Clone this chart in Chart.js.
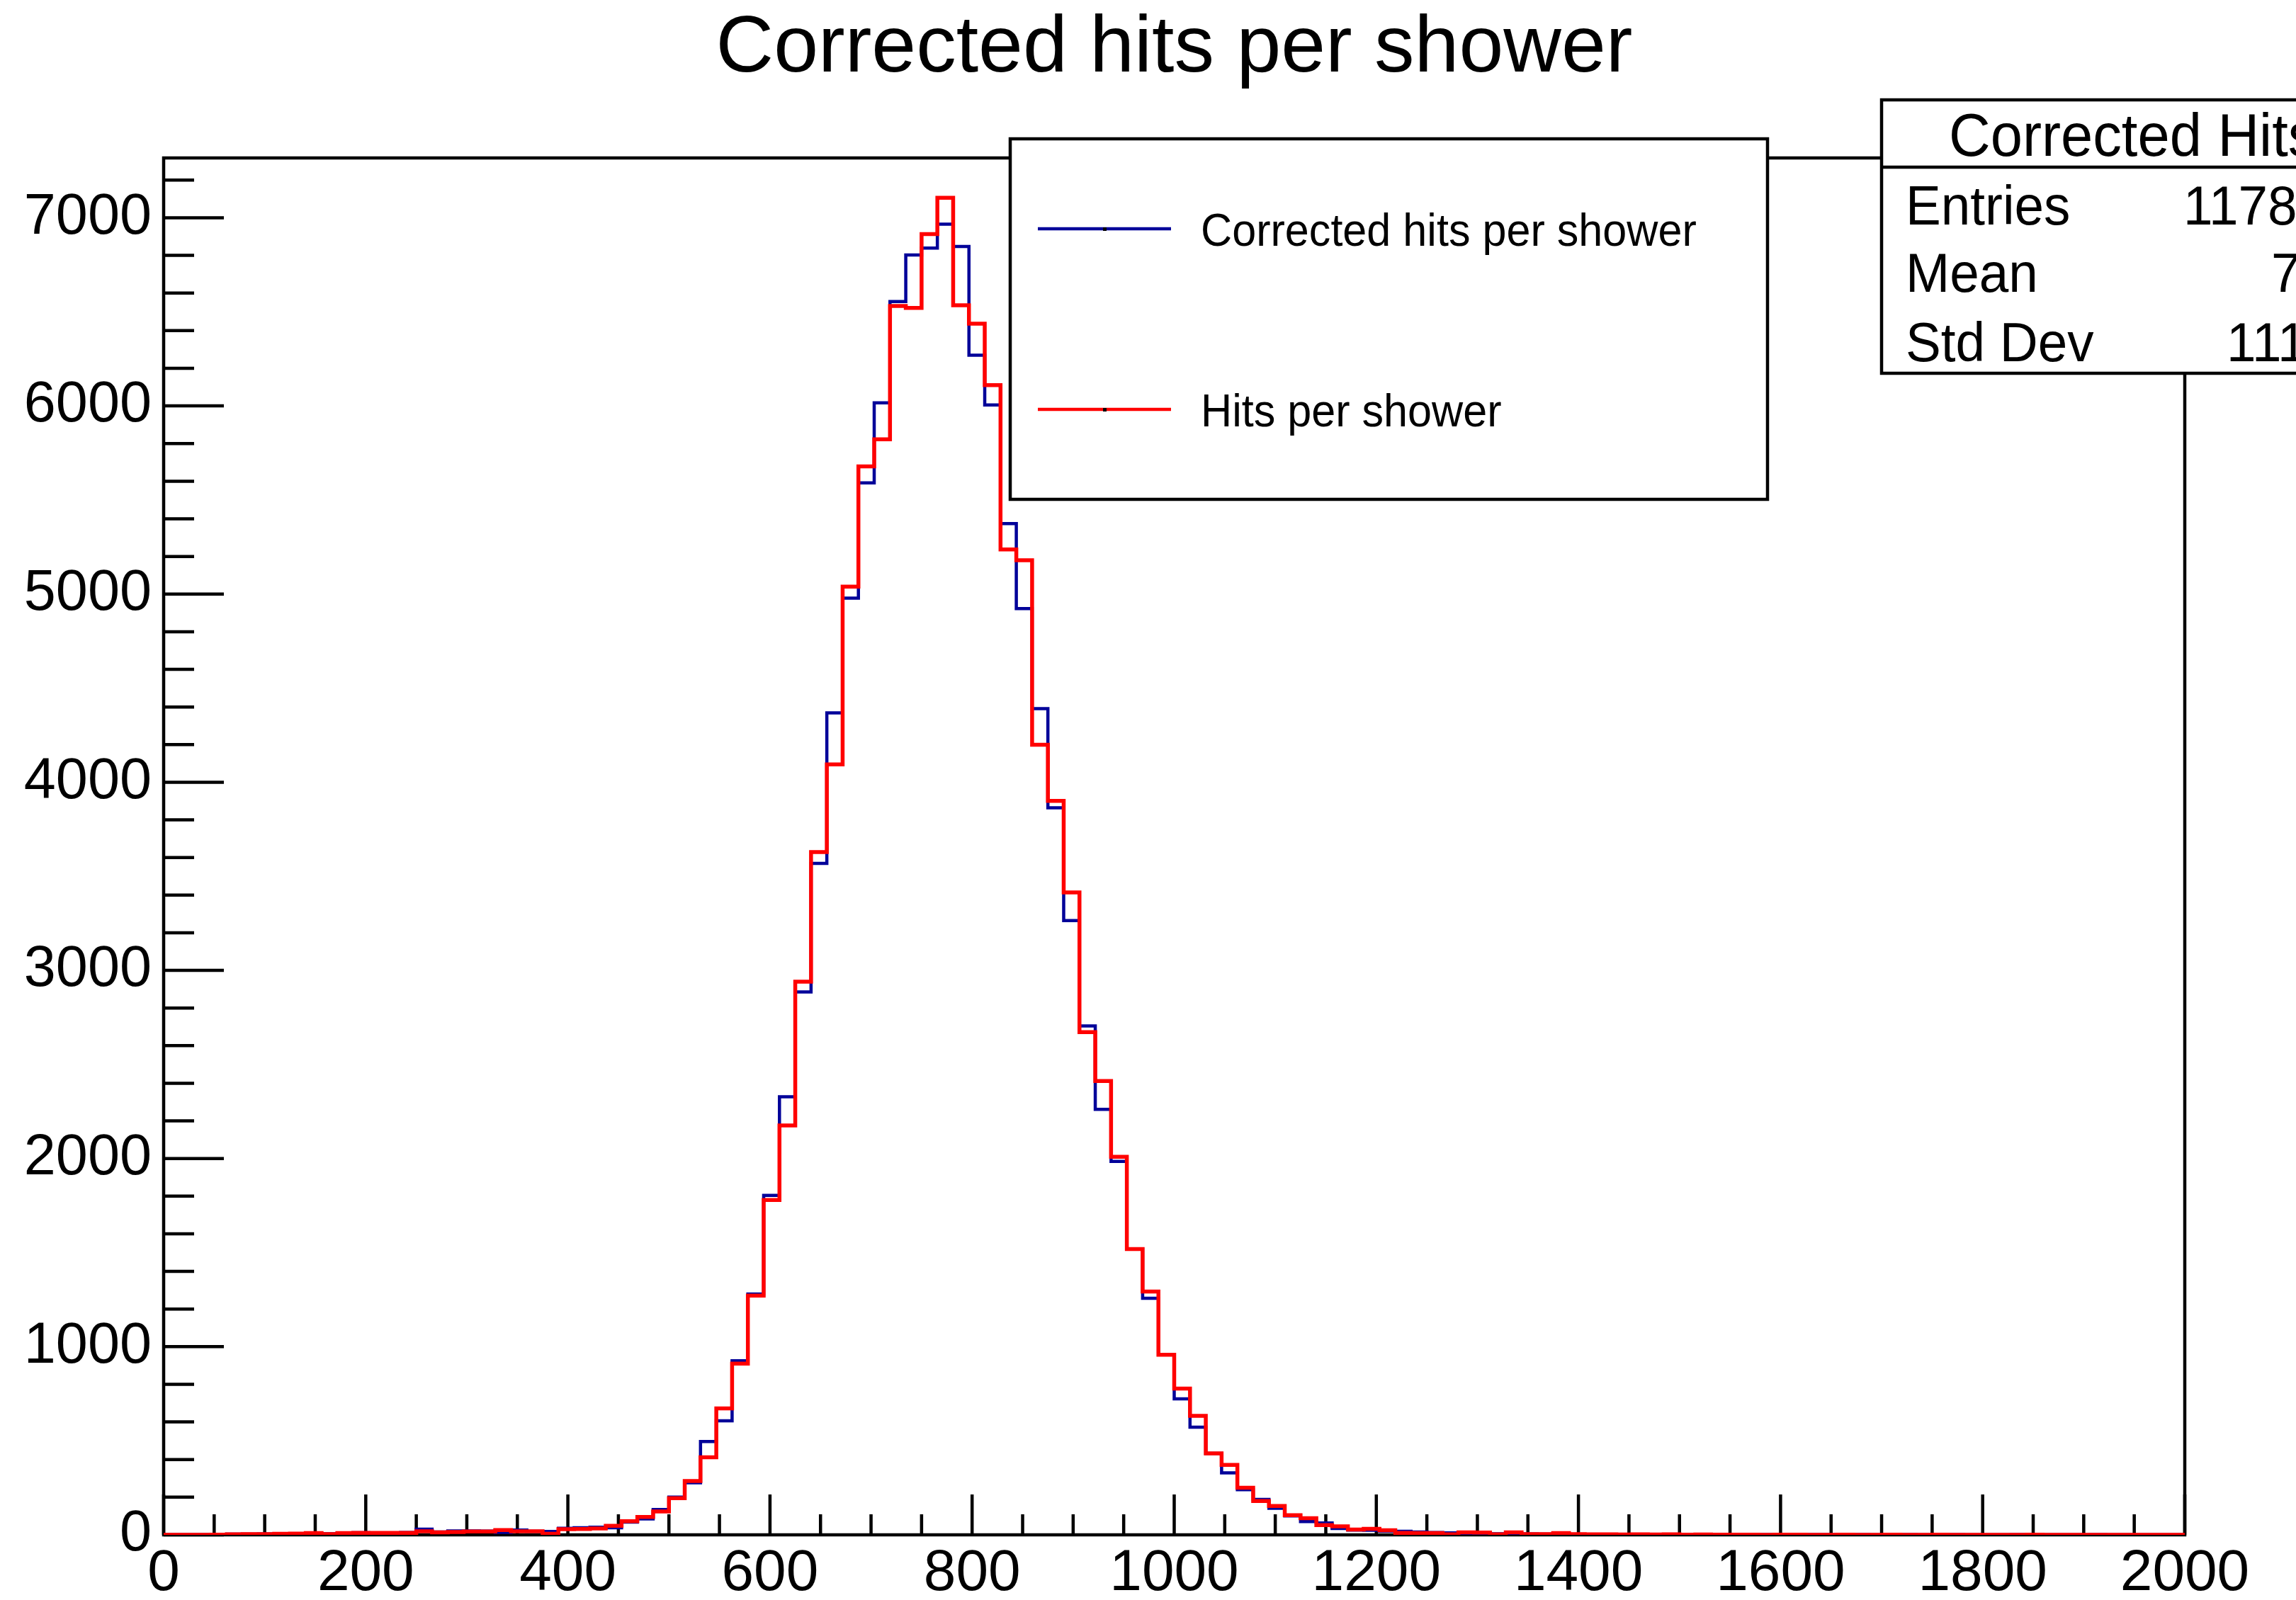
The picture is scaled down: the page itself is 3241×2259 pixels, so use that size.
<!DOCTYPE html>
<html>
<head>
<meta charset="utf-8">
<script src="https://cdn.jsdelivr.net/npm/chart.js@4/dist/chart.umd.min.js"></script>
<style>
  html, body { margin: 0; padding: 0; background: #ffffff; }
  #wrap { width: 3241px; height: 2259px; position: relative; }
  canvas { display: block; }
</style>
</head>
<body>
<div id="wrap"><canvas id="c" width="3241" height="2259"></canvas></div>
<script>
// ---- Data (128 bins from 0 to 2000) ----
const chartTitle = "Corrected hits per shower";
const xMin = 0;
const xMax = 2000;
const nBins = 128;
const xTickValues = [0, 200, 400, 600, 800, 1000, 1200, 1400, 1600, 1800, 2000];
const yTickValues = [0, 1000, 2000, 3000, 4000, 5000, 6000, 7000];
const yAxisMax = 7318;

const legendLabels = ["Corrected hits per shower", "Hits per shower"];
const statsTitle = "Corrected Hits per shower";
const statsLabels = ["Entries", "Mean", "Std Dev"];
const statsValues = ["117866", "780", "111.3"];

const correctedHits = [
  0, 0, 0, 1, 4, 4, 5, 7, 7, 8,
  6, 9, 11, 10, 10, 12, 30, 15, 21, 21,
  20, 13, 25, 19, 18, 35, 38, 40, 38, 68,
  85, 135, 200, 277, 496, 606, 925, 1280, 1804, 2328,
  2885, 3569, 4369, 4978, 5591, 6016, 6555, 6802, 6839, 6966,
  6847, 6270, 6005, 5375, 4923, 4391, 3864, 3265, 2705, 2261,
  1985, 1519, 1257, 957, 723, 572, 433, 329, 240, 188,
  141, 101, 71, 63, 34, 25, 24, 20, 19, 15,
  12, 10, 7, 6, 6, 5, 5, 4, 4, 3,
  3, 3, 2, 3, 2, 2, 2, 1, 2, 1,
  1, 1, 1, 0, 1, 1, 0, 1, 0, 0,
  1, 0, 0, 1, 0, 0, 0, 1, 0, 0,
  0, 0, 1, 0, 0, 0, 0, 0
];

const hitsPerShower = [
  0, 0, 0, 1, 3, 4, 4, 6, 7, 9,
  4, 9, 10, 10, 10, 10, 19, 13, 15, 18,
  18, 25, 19, 19, 6, 30, 31, 34, 48, 72,
  95, 124, 195, 286, 412, 672, 910, 1271, 1780, 2176,
  2940, 3629, 4095, 5040, 5679, 5823, 6531, 6521, 6913, 7106,
  6535, 6437, 6111, 5237, 5180, 4199, 3901, 3414, 2672, 2412,
  2009, 1519, 1293, 957, 777, 632, 433, 372, 250, 180,
  153, 104, 88, 52, 45, 28, 32, 24, 10, 9,
  9, 3, 13, 12, 3, 13, 4, 4, 9, 4,
  3, 3, 2, 3, 2, 3, 1, 2, 1, 1,
  1, 0, 1, 1, 0, 0, 1, 0, 0, 1,
  0, 0, 1, 0, 0, 0, 0, 0, 1, 0,
  0, 0, 0, 0, 0, 0, 0, 0
];

// step points at bin low edges (+ closing point at the upper edge)
function toSteps(values) {
  const w = (xMax - xMin) / nBins;
  const pts = values.map((v, i) => ({ x: xMin + i * w, y: v }));
  pts.push({ x: xMax, y: values[values.length - 1] });
  return pts;
}

const FONT = '"Liberation Sans", Arial, Helvetica, sans-serif';

function drawText(ctx, str, x, y, size, align, sx) {
  ctx.save();
  ctx.font = size + 'px ' + FONT;
  ctx.fillStyle = '#000';
  ctx.textBaseline = 'alphabetic';
  ctx.textAlign = align || 'left';
  ctx.translate(x, y);
  ctx.scale(sx || 1, 1);
  ctx.fillText(str, 0, 0);
  ctx.restore();
}

const LW = 4.5;

const rootStyle = {
  id: 'rootStyle',
  beforeDatasetsDraw(chart) {
    const { ctx, chartArea, scales } = chart;
    const { left, top, right, bottom } = chartArea;
    ctx.save();
    ctx.strokeStyle = '#000';
    ctx.lineWidth = LW;
    ctx.strokeRect(left, top, right - left, bottom - top);
    // x ticks (inside the frame)
    ctx.beginPath();
    for (let v = xMin; v <= xMax + 0.001; v += 50) {
      const px = scales.x.getPixelForValue(v);
      const len = (v % 200 === 0) ? 57 : 29;
      ctx.moveTo(px, bottom);
      ctx.lineTo(px, bottom - len);
    }
    // y ticks
    for (let v = 0; v <= yAxisMax; v += 200) {
      const py = scales.y.getPixelForValue(v);
      const len = (v % 1000 === 0) ? 85 : 43;
      ctx.moveTo(left, py);
      ctx.lineTo(left + len, py);
    }
    ctx.stroke();
    ctx.restore();
  },
  afterDraw(chart) {
    const ctx = chart.ctx;
    const { left, right } = chart.chartArea;
    // Title
    drawText(ctx, chartTitle, (left + right) / 2, 101, 113, 'center', 1);

    // Legend box
    ctx.save();
    ctx.fillStyle = '#fff';
    ctx.fillRect(1426, 196, 1069, 509);
    ctx.strokeStyle = '#000';
    ctx.lineWidth = LW;
    ctx.strokeRect(1426, 196, 1069, 509);
    const legY = [323, 578];
    const legColors = ['#000099', '#ff0000'];
    for (let i = 0; i < 2; i++) {
      ctx.strokeStyle = legColors[i];
      ctx.lineWidth = 4.5;
      ctx.beginPath();
      ctx.moveTo(1465, legY[i]);
      ctx.lineTo(1653, legY[i]);
      ctx.stroke();
      ctx.fillStyle = '#000';
      ctx.fillRect(1557, legY[i] - 2, 5, 5);
      drawText(ctx, legendLabels[i], 1695, legY[i] + 24, 64, 'left', 0.955);
    }
    ctx.restore();

    // Stats box
    ctx.save();
    ctx.fillStyle = '#fff';
    ctx.fillRect(2656, 141, 800, 386);
    ctx.strokeStyle = '#000';
    ctx.lineWidth = LW;
    ctx.strokeRect(2656, 141, 800, 386);
    ctx.beginPath();
    ctx.moveTo(2656, 236);
    ctx.lineTo(3456, 236);
    ctx.stroke();
    ctx.restore();
    drawText(ctx, statsTitle, 2751, 220, 86, 'left', 0.945);
    const rowY = [317, 412, 510];
    const valX = [3082, 3206, 3143];
    for (let i = 0; i < 3; i++) {
      drawText(ctx, statsLabels[i], 2690, rowY[i], 77, 'left', 0.97);
      drawText(ctx, statsValues[i], valX[i], rowY[i], 77, 'left', 0.97);
    }
  }
};

const ctx = document.getElementById('c').getContext('2d');
new Chart(ctx, {
  type: 'line',
  data: {
    datasets: [
      {
        label: legendLabels[0],
        data: toSteps(correctedHits),
        borderColor: '#000099',
        borderWidth: 4.5,
        stepped: 'before',
        pointRadius: 0,
        fill: false,
        tension: 0,
        order: 1
      },
      {
        label: legendLabels[1],
        data: toSteps(hitsPerShower),
        borderColor: '#ff0000',
        borderWidth: 5.5,
        stepped: 'before',
        pointRadius: 0,
        fill: false,
        tension: 0,
        order: 0
      }
    ]
  },
  options: {
    responsive: false,
    animation: false,
    devicePixelRatio: 1,
    layout: { padding: { top: 223, right: 157, left: 0, bottom: 0 } },
    plugins: {
      legend: { display: false },
      title: { display: false },
      tooltip: { enabled: false }
    },
    scales: {
      x: {
        type: 'linear',
        min: xMin,
        max: xMax,
        grid: { display: false, drawTicks: false },
        border: { display: false },
        afterBuildTicks(scale) {
          scale.ticks = xTickValues.map(v => ({ value: v }));
        },
        afterFit(scale) { scale.height = 92; },
        ticks: {
          autoSkip: false,
          maxRotation: 0,
          padding: 6,
          color: '#000',
          font: { family: FONT, size: 82 },
          callback: v => String(v)
        }
      },
      y: {
        type: 'linear',
        min: 0,
        max: yAxisMax,
        grid: { display: false, drawTicks: false },
        border: { display: false },
        afterBuildTicks(scale) {
          scale.ticks = yTickValues.map(v => ({ value: v }));
        },
        afterFit(scale) { scale.width = 231; },
        ticks: {
          padding: 17,
          color: '#000',
          font: { family: FONT, size: 81 },
          callback: v => String(v)
        }
      }
    }
  },
  plugins: [rootStyle]
});
</script>
</body>
</html>
